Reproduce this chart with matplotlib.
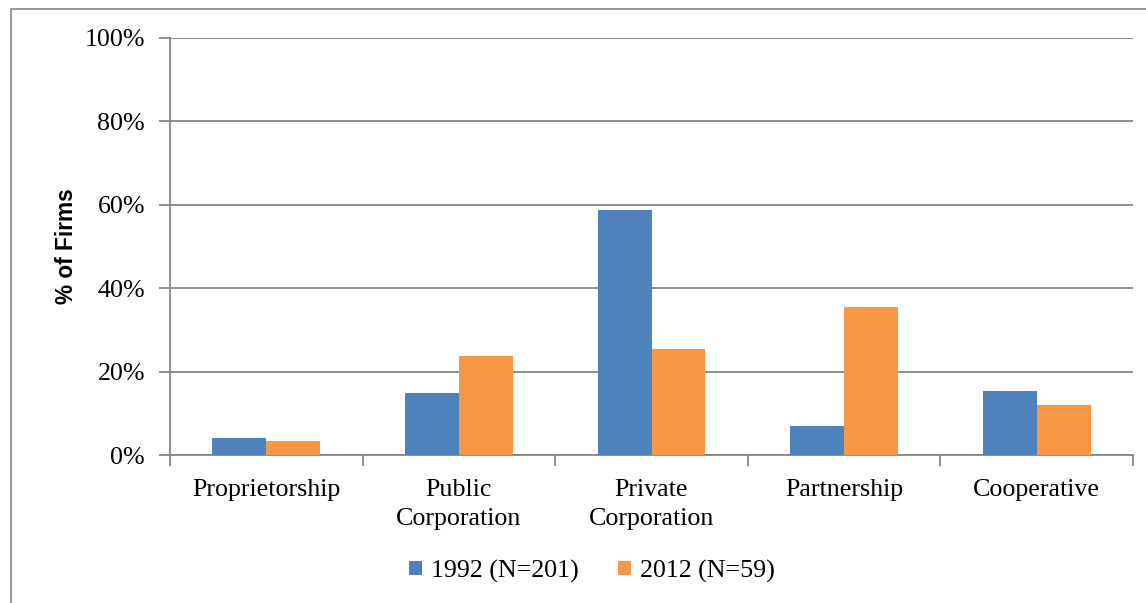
import matplotlib
matplotlib.use("Agg")
import matplotlib.pyplot as plt
import numpy as np
from matplotlib.patches import Rectangle

categories = ["Proprietorship", "Public\nCorporation", "Private\nCorporation", "Partnership", "Cooperative"]
series_names = ["1992 (N=201)", "2012 (N=59)"]
values_1992 = [4.0, 14.9, 58.7, 7.0, 15.4]
values_2012 = [3.4, 23.7, 25.4, 35.6, 11.9]
ytick_labels = ["0%", "20%", "40%", "60%", "80%", "100%"]
colors = ["#4F81BD", "#F79646"]

W, H = 1146, 603
fig = plt.figure(figsize=(W / 100, H / 100), dpi=100)
fig.patch.set_facecolor("white")

# outer chart border (partly cut off in reference)
fig.patches.append(Rectangle((11 / W, -0.1), 1.2, 1 - 9 / H + 0.1, transform=fig.transFigure,
                             fill=False, edgecolor="#868686", linewidth=1.2))

ax = fig.add_axes([170 / W, 1 - 455 / H, (1133 - 170) / W, (455 - 38) / H])
x = np.arange(len(categories))
bw = 0.28
grid_color = "#868686"
ax.bar(x - bw / 2, values_1992, bw, color=colors[0], label=series_names[0], zorder=3)
ax.bar(x + bw / 2, values_2012, bw, color=colors[1], label=series_names[1], zorder=3)

fs = 18.7
ax.set_xlim(-0.5, len(categories) - 0.5)
ax.set_ylim(0, 100)
ax.set_yticks(np.arange(0, 101, 20))
ax.set_yticklabels(ytick_labels, fontfamily="Liberation Serif", fontsize=fs)
ax.yaxis.grid(True, color=grid_color, linewidth=1.3, zorder=0)
ax.set_axisbelow(True)

ax.set_xticks(x)
ax.set_xticklabels(categories, fontfamily="Liberation Serif", fontsize=fs, linespacing=1.45)
ax.tick_params(axis="x", length=0, pad=17)
ax.set_xticks(np.arange(-0.5, len(categories), 1), minor=True)
ax.tick_params(axis="x", which="minor", length=8, width=1.3, color=grid_color)
ax.tick_params(axis="y", length=8, width=1.3, color=grid_color, pad=10)

for s in ["top", "right"]:
    ax.spines[s].set_visible(False)
for s in ["left", "bottom"]:
    ax.spines[s].set_color(grid_color)
    ax.spines[s].set_linewidth(1.3)

ax.set_ylabel("% of Firms", fontfamily="Liberation Sans", fontweight="bold", fontsize=16.3, labelpad=5)

leg = fig.legend(loc="center", bbox_to_anchor=(592 / W, 1 - 571 / H), ncol=2, frameon=False,
                 prop={"family": "Liberation Serif", "size": fs},
                 handlelength=0.5, handleheight=0.5, handletextpad=0.35, columnspacing=1.5)

fig.savefig("out.png", dpi=100)
